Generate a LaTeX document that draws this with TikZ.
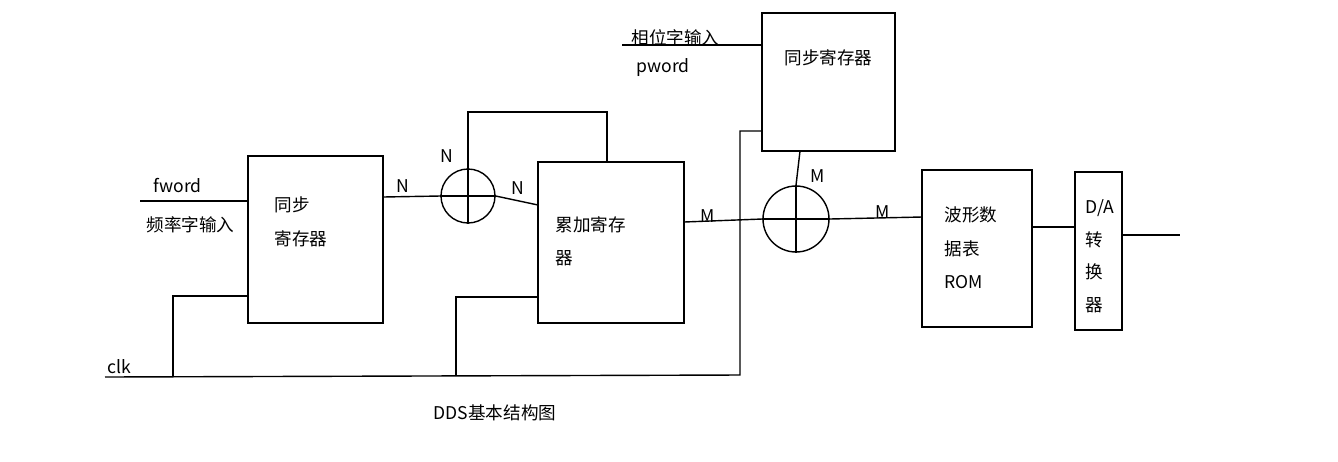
\documentclass[tikz,border=0pt]{standalone}
\usepackage{fontspec}
\setmainfont{Noto Sans CJK SC}
\usetikzlibrary{positioning}

\begin{document}
\begin{tikzpicture}[x=0.02cm,y=-0.02cm,thick,
  font=\fontsize{10}{19}\selectfont,
  sum/.style={draw,circle,minimum size=54*0.02cm,inner sep=0pt},
  lbl/.style={inner sep=0pt,anchor=west}]
  \useasboundingbox (0,0) rectangle (1338,461);
  % boxes
  \draw (248,156) rectangle (383,323);
  \draw (538,162) rectangle (684,323);
  \draw (762,13) rectangle (895,151);
  \draw (922,170) rectangle (1032,327);
  \draw (1075,172) rectangle (1122,330);
  \node[lbl,align=left] (reg1) at (274,222) {同步\\寄存器};
  \node[lbl,align=left] (acc) at (555,241) {累加寄存\\器};
  \node[lbl] (reg2) at (784,58) {同步寄存器};
  \node[lbl,align=left] (rom) at (944,248) {波形数\\据表\\ROM};
  \node[lbl,align=left,font=\fontsize{10}{18.5}\selectfont] (dac) at (1085,256) {D/A\\转\\换\\器};
  % adders
  \node[sum] (add1) at (468,196) {};
  \node[sum,minimum size=66*0.02cm] (add2) at (796,219) {};
  \draw (add1.north) -- (add1.south) (add1.west) -- (add1.east);
  \draw (add2.north) -- (add2.south) (add2.west) -- (add2.east);
  % inputs
  \coordinate (fin) at (140,201);
  \draw (fin) -- (248,201);
  \node[lbl] (fword) at (153,185) {fword};
  \node[lbl] (fname) at (146,225) {频率字输入};
  \coordinate (pin) at (622,45);
  \draw (pin) -- (762,45);
  \node[lbl] (pname) at (631,38) {相位字输入};
  \node[lbl] (pword) at (636,68) {pword};
  % data path
  \draw (383,197) -- (add1.west);
  \draw (add1.east) -- (538,205);
  \draw (add1.north) -- (468,112) -- (607,112) -- (607,162);
  \node at (403,186) {N};
  \node at (518,188) {N};
  \node at (447,156) {N};
  \draw (684,222) -- (add2.west);
  \draw (add2.east) -- (922,217);
  \draw (800,151) -- (add2.north);
  \node at (708,216) {M};
  \node at (883,212) {M};
  \node at (818,176) {M};
  \draw (1032,227) -- (1075,227);
  \coordinate (out) at (1180,235);
  \draw (1122,235) -- (out);
  % clock
  \coordinate (clk) at (105,377);
  \draw (clk) -- (740,375) -- (740,131) -- (762,131);
  \draw (173,377) -- (173,296) -- (248,296);
  \draw (456,376) -- (456,297) -- (538,297);
  \node[lbl] (clklbl) at (107,367) {clk};
  \node (title) at (495,413) {DDS基本结构图};
\end{tikzpicture}
\end{document}
